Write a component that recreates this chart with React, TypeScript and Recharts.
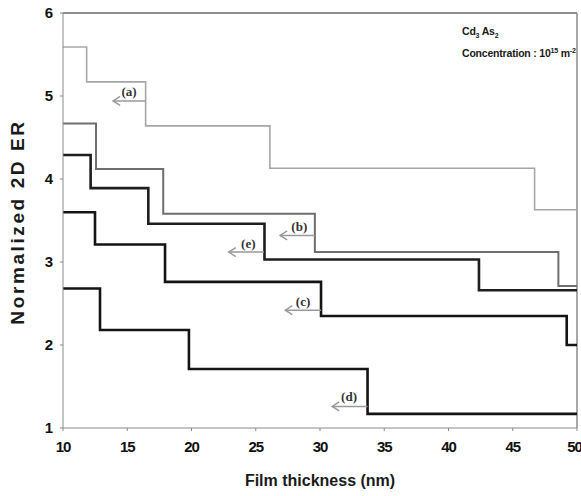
import React from 'react';
import { LineChart, Line, XAxis, YAxis, ReferenceLine, ReferenceDot } from 'recharts';

// step curves: thickness (nm) where each plateau starts, and its ER value
const thicknessA = [10, 11.84, 16.43, 26.1, 46.7, 50];
const erA = [5.59, 5.17, 4.64, 4.13, 3.63, 3.63];
const thicknessB = [10, 12.57, 17.8, 29.6, 48.55, 50];
const erB = [4.67, 4.12, 3.58, 3.12, 2.71, 2.71];
const thicknessE = [10, 12.15, 16.64, 25.68, 42.37, 50];
const erE = [4.29, 3.89, 3.46, 3.03, 2.66, 2.66];
const thicknessC = [10, 12.49, 17.94, 30.08, 49.2, 50];
const erC = [3.6, 3.21, 2.76, 2.35, 2.0, 2.0];
const thicknessD = [10, 12.88, 19.8, 33.7, 50];
const erD = [2.68, 2.18, 1.71, 1.17, 1.17];

const xTicks = [10, 15, 20, 25, 30, 35, 40, 45, 50];
const yTicks = [1, 2, 3, 4, 5, 6];

// annotation arrows: label, arrow start x, arrow end x, arrow y, label x, label y
const tags = ['(a)', '(b)', '(e)', '(c)', '(d)'];
const arrowFrom = [16.43, 29.6, 25.64, 30.08, 33.7];
const arrowTo = [13.9, 26.9, 22.9, 27.3, 30.95];
const arrowY = [4.94, 3.32, 3.12, 2.42, 1.26];
const tagX = [15.14, 28.39, 24.42, 28.68, 32.26];
const tagY = [5.05, 3.43, 3.23, 2.52, 1.38];

const zip = (xs: number[], ys: number[]) => xs.map((x, i) => ({ x, y: ys[i] }));

const series = [
  { key: 'a', data: zip(thicknessA, erA), color: '#a6a6a6', width: 1.6 },
  { key: 'b', data: zip(thicknessB, erB), color: '#6e6e6e', width: 2 },
  { key: 'e', data: zip(thicknessE, erE), color: '#1e1e1e', width: 2.6 },
  { key: 'c', data: zip(thicknessC, erC), color: '#141414', width: 2.6 },
  { key: 'd', data: zip(thicknessD, erD), color: '#141414', width: 2.6 },
];

const sansFont = '"Liberation Sans", Arial, sans-serif';

const ArrowHead = (props: any) => {
  const { cx, cy, index } = props;
  if (index !== 1 || cx == null) return <g key={`ah-${index}`} />;
  return (
    <path
      key={`ah-${index}`}
      d={`M${cx + 7},${cy - 4.5} L${cx},${cy} L${cx + 7},${cy + 4.5}`}
      fill="none"
      stroke="#9a9a9a"
      strokeWidth={1.5}
    />
  );
};

const YLabel = () => (
  <text
    x={17}
    y={222}
    transform="rotate(-90 17 222)"
    textAnchor="middle"
    dominantBaseline="central"
    fontFamily={sansFont}
    fontWeight="bold"
    fontSize={19}
    letterSpacing={2.6}
    fill="#1a1a1a"
  >
    Normalized 2D ER
  </text>
);

const subStyle: React.CSSProperties = { fontSize: 7, position: 'relative', top: 3, lineHeight: 0 };
const supStyle: React.CSSProperties = { fontSize: 7, position: 'relative', top: -4, lineHeight: 0 };

export default function App() {
  return (
    <div style={{ position: 'absolute', left: 0, top: 0, width: 581, height: 496, background: '#fff' }}>
      <LineChart width={581} height={496} margin={{ top: 13, right: 4, bottom: 38, left: 13 }}>
        <XAxis
          type="number"
          dataKey="x"
          domain={[10, 50]}
          ticks={xTicks}
          allowDataOverflow
          height={30}
          stroke="#8a8a8a"
          tickSize={3}
          tickMargin={10}
          tick={{ fill: '#111', fontSize: 15, fontWeight: 'bold', fontFamily: sansFont, letterSpacing: -1 }}
          label={{
            value: 'Film thickness (nm)',
            position: 'insideBottom',
            offset: -28,
            fill: '#1a1a1a',
            fontSize: 16,
            fontWeight: 'bold',
            fontFamily: sansFont,
          }}
        />
        <YAxis
          type="number"
          domain={[1, 6]}
          ticks={yTicks}
          allowDataOverflow
          width={50}
          stroke="#8a8a8a"
          tickSize={3}
          tickMargin={7}
          tick={{ fill: '#111', fontSize: 15, fontWeight: 'bold', fontFamily: sansFont }}
          label={{ content: () => <YLabel /> }}
        />
        <ReferenceLine y={6} stroke="#6a6a6a" strokeWidth={1.5} />
        <ReferenceLine x={50} stroke="#8a8a8a" strokeWidth={1.5} />
        {series.map((s) => (
          <Line
            key={s.key}
            data={s.data}
            dataKey="y"
            type="stepAfter"
            stroke={s.color}
            strokeWidth={s.width}
            dot={false}
            activeDot={false}
            isAnimationActive={false}
          />
        ))}
        {tags.map((t, i) => (
          <Line
            key={`arrow-${t}`}
            data={[
              { x: arrowFrom[i], y: arrowY[i] },
              { x: arrowTo[i], y: arrowY[i] },
            ]}
            dataKey="y"
            type="linear"
            stroke="#9a9a9a"
            strokeWidth={1.5}
            dot={ArrowHead}
            activeDot={false}
            isAnimationActive={false}
          />
        ))}
        {tags.map((t, i) => (
          <ReferenceDot
            key={`tag-${t}`}
            x={tagX[i]}
            y={tagY[i]}
            r={0}
            fill="none"
            stroke="none"
            label={{
              value: t,
              position: 'center',
              fill: '#333',
              fontSize: 13,
              fontWeight: 'bold',
              fontFamily: '"Liberation Serif", "Times New Roman", serif',
            }}
          />
        ))}
      </LineChart>
      <div
        style={{
          position: 'absolute',
          left: 462,
          top: 20,
          fontFamily: sansFont,
          fontWeight: 'bold',
          fontSize: 10.5,
          letterSpacing: -0.2,
          color: '#1a1a1a',
          lineHeight: '22px',
          whiteSpace: 'nowrap',
        }}
      >
        <div>
          Cd<span style={subStyle}>3</span> As<span style={subStyle}>2</span>
        </div>
        <div>
          Concentration : 10<span style={supStyle}>15</span> m<span style={supStyle}>-2</span>
        </div>
      </div>
    </div>
  );
}
